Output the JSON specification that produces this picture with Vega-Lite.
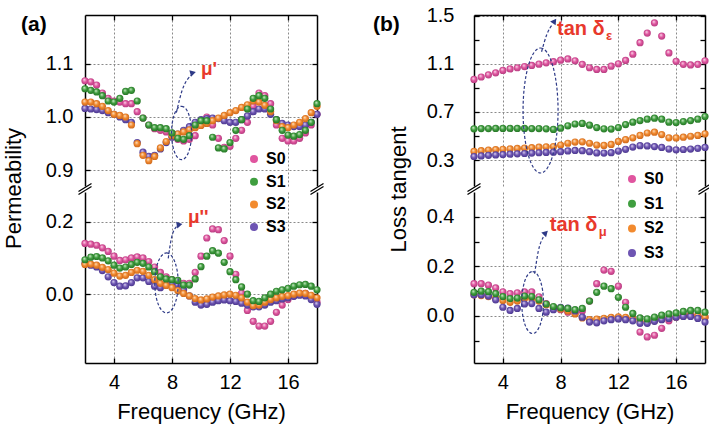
{
"$schema":"https://vega.github.io/schema/vega-lite/v6.json",
"background":"white",
"padding":{"left":2,"top":5,"right":5,"bottom":5},
"config":{
 "font":"Liberation Sans",
 "view":{"stroke":null},
 "axis":{"labelFont":"Liberation Sans","labelFontSize":20,"labelColor":"black","titleFont":"Liberation Sans","titleFontSize":22,"titleFontWeight":"normal","titleColor":"black","domainColor":"black","domainWidth":1.5,"tickColor":"black","tickWidth":1.3,"tickSize":-5,"gridColor":"#8a8a8a","gridDash":[2,2],"gridWidth":1,"gridOpacity":1},
 "legend":{"labelFont":"Liberation Sans","labelFontSize":16,"labelFontWeight":"bold","labelColor":"black","symbolType":"circle","symbolSize":64,"symbolStrokeWidth":0,"labelOffset":4,"padding":0}
},
"datasets":{
"mu1":[
{"f":2.0,"S0":1.068,"S1":1.053,"S2":1.028,"S3":1.016},
{"f":2.4,"S0":1.066,"S1":1.050,"S2":1.028,"S3":1.015},
{"f":2.8,"S0":1.060,"S1":1.047,"S2":1.025,"S3":1.014},
{"f":3.2,"S0":1.045,"S1":1.040,"S2":1.020,"S3":1.012},
{"f":3.6,"S0":1.035,"S1":1.030,"S2":1.012,"S3":1.008},
{"f":4.0,"S0":1.030,"S1":1.028,"S2":1.005,"S3":1.005},
{"f":4.4,"S0":1.028,"S1":1.035,"S2":1.003,"S3":1.000},
{"f":4.8,"S0":1.025,"S1":1.048,"S2":1.000,"S3":0.995},
{"f":5.2,"S0":1.025,"S1":1.050,"S2":0.985,"S3":0.990},
{"f":5.6,"S0":1.010,"S1":1.030,"S2":0.950,"S3":0.952},
{"f":6.0,"S0":0.998,"S1":0.998,"S2":0.928,"S3":0.934},
{"f":6.4,"S0":0.985,"S1":0.985,"S2":0.918,"S3":0.926},
{"f":6.8,"S0":0.978,"S1":0.980,"S2":0.926,"S3":0.928},
{"f":7.2,"S0":0.975,"S1":0.980,"S2":0.942,"S3":0.940},
{"f":7.6,"S0":0.972,"S1":0.978,"S2":0.954,"S3":0.952},
{"f":8.0,"S0":0.965,"S1":0.970,"S2":0.965,"S3":0.962},
{"f":8.4,"S0":0.958,"S1":0.960,"S2":0.968,"S3":0.968},
{"f":8.8,"S0":0.955,"S1":0.958,"S2":0.972,"S3":0.975},
{"f":9.2,"S0":0.958,"S1":0.965,"S2":0.976,"S3":0.982},
{"f":9.6,"S0":0.965,"S1":0.985,"S2":0.980,"S3":0.990},
{"f":10.0,"S0":0.985,"S1":0.993,"S2":0.984,"S3":0.995},
{"f":10.4,"S0":1.000,"S1":0.993,"S2":0.988,"S3":0.997},
{"f":10.8,"S0":0.985,"S1":0.962,"S2":0.993,"S3":0.998},
{"f":11.2,"S0":0.960,"S1":0.942,"S2":0.998,"S3":0.997},
{"f":11.6,"S0":0.943,"S1":0.940,"S2":1.003,"S3":0.993},
{"f":12.0,"S0":0.945,"S1":0.952,"S2":1.008,"S3":0.990},
{"f":12.4,"S0":0.960,"S1":0.975,"S2":1.012,"S3":0.990},
{"f":12.8,"S0":0.975,"S1":0.995,"S2":1.018,"S3":0.995},
{"f":13.2,"S0":0.990,"S1":1.015,"S2":1.023,"S3":1.002},
{"f":13.6,"S0":1.020,"S1":1.035,"S2":1.030,"S3":1.010},
{"f":14.0,"S0":1.045,"S1":1.040,"S2":1.028,"S3":1.015},
{"f":14.4,"S0":1.040,"S1":1.035,"S2":1.022,"S3":1.015},
{"f":14.8,"S0":1.025,"S1":1.015,"S2":1.010,"S3":1.005},
{"f":15.2,"S0":0.985,"S1":0.995,"S2":0.993,"S3":0.995},
{"f":15.6,"S0":0.960,"S1":0.975,"S2":0.982,"S3":0.988},
{"f":16.0,"S0":0.955,"S1":0.966,"S2":0.980,"S3":0.985},
{"f":16.4,"S0":0.955,"S1":0.964,"S2":0.985,"S3":0.982},
{"f":16.8,"S0":0.960,"S1":0.967,"S2":0.990,"S3":0.982},
{"f":17.2,"S0":0.970,"S1":0.975,"S2":0.997,"S3":0.985},
{"f":17.6,"S0":0.985,"S1":0.990,"S2":1.008,"S3":0.990},
{"f":18.0,"S0":1.005,"S1":1.025,"S2":1.020,"S3":1.005}],
"mu2":[
{"f":2.0,"S0":0.140,"S1":0.095,"S2":0.082,"S3":0.085},
{"f":2.4,"S0":0.138,"S1":0.102,"S2":0.083,"S3":0.080},
{"f":2.8,"S0":0.135,"S1":0.104,"S2":0.080,"S3":0.075},
{"f":3.2,"S0":0.128,"S1":0.100,"S2":0.074,"S3":0.065},
{"f":3.6,"S0":0.118,"S1":0.092,"S2":0.068,"S3":0.048},
{"f":4.0,"S0":0.105,"S1":0.080,"S2":0.058,"S3":0.032},
{"f":4.4,"S0":0.093,"S1":0.072,"S2":0.050,"S3":0.022},
{"f":4.8,"S0":0.095,"S1":0.075,"S2":0.052,"S3":0.023},
{"f":5.2,"S0":0.100,"S1":0.082,"S2":0.060,"S3":0.032},
{"f":5.6,"S0":0.103,"S1":0.088,"S2":0.066,"S3":0.045},
{"f":6.0,"S0":0.100,"S1":0.085,"S2":0.063,"S3":0.045},
{"f":6.4,"S0":0.090,"S1":0.075,"S2":0.052,"S3":0.035},
{"f":6.8,"S0":0.075,"S1":0.062,"S2":0.040,"S3":0.022},
{"f":7.2,"S0":0.060,"S1":0.048,"S2":0.030,"S3":0.018},
{"f":7.6,"S0":0.048,"S1":0.042,"S2":0.024,"S3":0.025},
{"f":8.0,"S0":0.040,"S1":0.040,"S2":0.018,"S3":0.030},
{"f":8.4,"S0":0.035,"S1":0.038,"S2":0.010,"S3":0.025},
{"f":8.8,"S0":0.030,"S1":0.025,"S2":0.002,"S3":0.012},
{"f":9.2,"S0":0.030,"S1":0.025,"S2":-0.005,"S3":-0.005},
{"f":9.6,"S0":0.060,"S1":0.042,"S2":-0.012,"S3":-0.022},
{"f":10.0,"S0":0.105,"S1":0.076,"S2":-0.016,"S3":-0.030},
{"f":10.4,"S0":0.155,"S1":0.105,"S2":-0.013,"S3":-0.028},
{"f":10.8,"S0":0.180,"S1":0.120,"S2":-0.008,"S3":-0.022},
{"f":11.2,"S0":0.178,"S1":0.113,"S2":-0.005,"S3":-0.018},
{"f":11.6,"S0":0.148,"S1":0.088,"S2":-0.002,"S3":-0.016},
{"f":12.0,"S0":0.105,"S1":0.062,"S2":0.000,"S3":-0.018},
{"f":12.4,"S0":0.055,"S1":0.040,"S2":-0.003,"S3":-0.020},
{"f":12.8,"S0":0.003,"S1":0.020,"S2":-0.010,"S3":-0.025},
{"f":13.2,"S0":-0.045,"S1":0.000,"S2":-0.022,"S3":-0.030},
{"f":13.6,"S0":-0.075,"S1":-0.018,"S2":-0.032,"S3":-0.035},
{"f":14.0,"S0":-0.088,"S1":-0.020,"S2":-0.030,"S3":-0.035},
{"f":14.4,"S0":-0.088,"S1":-0.010,"S2":-0.022,"S3":-0.030},
{"f":14.8,"S0":-0.075,"S1":0.000,"S2":-0.015,"S3":-0.022},
{"f":15.2,"S0":-0.050,"S1":0.008,"S2":-0.010,"S3":-0.018},
{"f":15.6,"S0":-0.030,"S1":0.012,"S2":-0.006,"S3":-0.013},
{"f":16.0,"S0":-0.015,"S1":0.016,"S2":-0.004,"S3":-0.010},
{"f":16.4,"S0":-0.005,"S1":0.022,"S2":0.000,"S3":-0.006},
{"f":16.8,"S0":0.000,"S1":0.026,"S2":0.003,"S3":-0.003},
{"f":17.2,"S0":0.002,"S1":0.027,"S2":0.002,"S3":-0.005},
{"f":17.6,"S0":-0.008,"S1":0.022,"S2":-0.003,"S3":-0.015},
{"f":18.0,"S0":-0.022,"S1":0.012,"S2":-0.010,"S3":-0.028}],
"te":[
{"f":2.0,"S0":0.970,"S1":0.560,"S2":0.372,"S3":0.330},
{"f":2.5,"S0":0.990,"S1":0.562,"S2":0.378,"S3":0.335},
{"f":3.0,"S0":1.008,"S1":0.562,"S2":0.383,"S3":0.340},
{"f":3.5,"S0":1.025,"S1":0.563,"S2":0.387,"S3":0.343},
{"f":4.0,"S0":1.045,"S1":0.563,"S2":0.390,"S3":0.346},
{"f":4.5,"S0":1.057,"S1":0.563,"S2":0.393,"S3":0.349},
{"f":5.0,"S0":1.067,"S1":0.563,"S2":0.397,"S3":0.352},
{"f":5.5,"S0":1.077,"S1":0.563,"S2":0.400,"S3":0.355},
{"f":6.0,"S0":1.086,"S1":0.562,"S2":0.403,"S3":0.358},
{"f":6.5,"S0":1.097,"S1":0.562,"S2":0.407,"S3":0.361},
{"f":7.0,"S0":1.108,"S1":0.560,"S2":0.410,"S3":0.364},
{"f":7.5,"S0":1.117,"S1":0.555,"S2":0.413,"S3":0.366},
{"f":8.0,"S0":1.130,"S1":0.565,"S2":0.425,"S3":0.370},
{"f":8.5,"S0":1.140,"S1":0.585,"S2":0.440,"S3":0.376},
{"f":9.0,"S0":1.125,"S1":0.600,"S2":0.450,"S3":0.380},
{"f":9.5,"S0":1.095,"S1":0.605,"S2":0.452,"S3":0.378},
{"f":10.0,"S0":1.067,"S1":0.590,"S2":0.440,"S3":0.370},
{"f":10.5,"S0":1.053,"S1":0.570,"S2":0.425,"S3":0.360},
{"f":11.0,"S0":1.053,"S1":0.560,"S2":0.422,"S3":0.358},
{"f":11.5,"S0":1.080,"S1":0.558,"S2":0.430,"S3":0.362},
{"f":12.0,"S0":1.100,"S1":0.570,"S2":0.455,"S3":0.375},
{"f":12.5,"S0":1.128,"S1":0.595,"S2":0.470,"S3":0.390},
{"f":13.0,"S0":1.180,"S1":0.615,"S2":0.485,"S3":0.408},
{"f":13.5,"S0":1.275,"S1":0.628,"S2":0.505,"S3":0.420},
{"f":14.0,"S0":1.355,"S1":0.640,"S2":0.525,"S3":0.418},
{"f":14.5,"S0":1.440,"S1":0.648,"S2":0.532,"S3":0.412},
{"f":15.0,"S0":1.330,"S1":0.640,"S2":0.512,"S3":0.405},
{"f":15.5,"S0":1.190,"S1":0.615,"S2":0.485,"S3":0.392},
{"f":16.0,"S0":1.120,"S1":0.612,"S2":0.484,"S3":0.385},
{"f":16.5,"S0":1.095,"S1":0.620,"S2":0.490,"S3":0.388},
{"f":17.0,"S0":1.090,"S1":0.628,"S2":0.498,"S3":0.392},
{"f":17.5,"S0":1.095,"S1":0.640,"S2":0.505,"S3":0.398},
{"f":18.0,"S0":1.125,"S1":0.662,"S2":0.518,"S3":0.405}],
"tm":[
{"f":2.0,"S0":0.130,"S1":0.095,"S2":0.085,"S3":0.085},
{"f":2.5,"S0":0.130,"S1":0.100,"S2":0.082,"S3":0.085},
{"f":3.0,"S0":0.124,"S1":0.098,"S2":0.078,"S3":0.080},
{"f":3.5,"S0":0.113,"S1":0.090,"S2":0.072,"S3":0.065},
{"f":4.0,"S0":0.097,"S1":0.078,"S2":0.062,"S3":0.035},
{"f":4.5,"S0":0.090,"S1":0.070,"S2":0.055,"S3":0.022},
{"f":5.0,"S0":0.093,"S1":0.072,"S2":0.060,"S3":0.030},
{"f":5.5,"S0":0.097,"S1":0.080,"S2":0.070,"S3":0.048},
{"f":6.0,"S0":0.097,"S1":0.078,"S2":0.070,"S3":0.050},
{"f":6.5,"S0":0.077,"S1":0.065,"S2":0.060,"S3":0.030},
{"f":7.0,"S0":0.050,"S1":0.048,"S2":0.045,"S3":0.015},
{"f":7.5,"S0":0.035,"S1":0.038,"S2":0.035,"S3":0.025},
{"f":8.0,"S0":0.025,"S1":0.033,"S2":0.028,"S3":0.035},
{"f":8.5,"S0":0.015,"S1":0.030,"S2":0.020,"S3":0.032},
{"f":9.0,"S0":0.010,"S1":0.025,"S2":0.008,"S3":0.020},
{"f":9.5,"S0":0.020,"S1":0.030,"S2":-0.008,"S3":-0.005},
{"f":10.0,"S0":0.060,"S1":0.060,"S2":-0.015,"S3":-0.025},
{"f":10.5,"S0":0.130,"S1":0.095,"S2":-0.013,"S3":-0.028},
{"f":11.0,"S0":0.185,"S1":0.120,"S2":-0.010,"S3":-0.020},
{"f":11.5,"S0":0.180,"S1":0.110,"S2":-0.006,"S3":-0.015},
{"f":12.0,"S0":0.120,"S1":0.075,"S2":-0.004,"S3":-0.012},
{"f":12.5,"S0":0.055,"S1":0.035,"S2":-0.006,"S3":-0.015},
{"f":13.0,"S0":-0.010,"S1":0.010,"S2":-0.012,"S3":-0.020},
{"f":13.5,"S0":-0.065,"S1":-0.008,"S2":-0.022,"S3":-0.030},
{"f":14.0,"S0":-0.085,"S1":-0.012,"S2":-0.025,"S3":-0.030},
{"f":14.5,"S0":-0.078,"S1":-0.005,"S2":-0.020,"S3":-0.022},
{"f":15.0,"S0":-0.050,"S1":0.003,"S2":-0.013,"S3":-0.015},
{"f":15.5,"S0":-0.020,"S1":0.008,"S2":-0.008,"S3":-0.010},
{"f":16.0,"S0":-0.005,"S1":0.012,"S2":-0.004,"S3":-0.005},
{"f":16.5,"S0":0.002,"S1":0.018,"S2":0.000,"S3":-0.002},
{"f":17.0,"S0":0.005,"S1":0.022,"S2":0.002,"S3":-0.002},
{"f":17.5,"S0":0.002,"S1":0.022,"S2":0.000,"S3":-0.010},
{"f":18.0,"S0":-0.005,"S1":0.015,"S2":-0.005,"S3":-0.025}]
},
"hconcat":[
{"vconcat":[
 {"width":232,"height":171,"data":{"name":"mu1"},
  "resolve":{"axis":{"x":"independent","y":"independent"}},
  "layer":[
   {"mark":{"type":"point","filled":true,"opacity":1,"size":52,"fill":{"gradient":"radial","x1":0.38,"y1":0.32,"r1":0,"x2":0.5,"y2":0.5,"r2":0.55,"stops":[{"offset":0,"color":"#fbe3f0"},{"offset":0.5,"color":"#e0559f"},{"offset":1,"color":"#b03a7c"}]}},
    "encoding":{"x":{"field":"f","type":"quantitative","scale":{"domain":[2,18],"nice":false},"axis":{"orient":"top","values":[4,8,12,16],"labels":false,"grid":true,"title":null}},
     "y":{"field":"S0","type":"quantitative","scale":{"domain":[0.8705,1.1914],"nice":false,"zero":false},"axis":{"orient":"left","values":[0.9,1.0,1.1],"format":".1f","grid":true,"title":"Permeability","titleY":173,"labelPadding":17,"titlePadding":20}}}},
   {"mark":{"type":"point","filled":true,"opacity":1,"size":52,"fill":{"gradient":"radial","x1":0.38,"y1":0.32,"r1":0,"x2":0.5,"y2":0.5,"r2":0.55,"stops":[{"offset":0,"color":"#e4ddf5"},{"offset":0.5,"color":"#6e55b3"},{"offset":1,"color":"#47358a"}]}},
    "encoding":{"x":{"field":"f","type":"quantitative","scale":{"domain":[2,18],"nice":false},"axis":null},
     "y":{"field":"S3","type":"quantitative","scale":{"domain":[0.8705,1.1914],"nice":false,"zero":false},"axis":{"orient":"right","values":[0.9,1.0,1.1],"labels":false,"grid":false,"title":null}}}},
   {"mark":{"type":"point","filled":true,"opacity":1,"size":52,"fill":{"gradient":"radial","x1":0.38,"y1":0.32,"r1":0,"x2":0.5,"y2":0.5,"r2":0.55,"stops":[{"offset":0,"color":"#fde7cf"},{"offset":0.5,"color":"#f28a2e"},{"offset":1,"color":"#c8641a"}]}},
    "encoding":{"x":{"field":"f","type":"quantitative","scale":{"domain":[2,18],"nice":false},"axis":null},
     "y":{"field":"S2","type":"quantitative","scale":{"domain":[0.8705,1.1914],"nice":false,"zero":false},"axis":null}}},
   {"mark":{"type":"point","filled":true,"opacity":1,"size":52,"fill":{"gradient":"radial","x1":0.38,"y1":0.32,"r1":0,"x2":0.5,"y2":0.5,"r2":0.55,"stops":[{"offset":0,"color":"#dcf2d6"},{"offset":0.5,"color":"#3f9e3f"},{"offset":1,"color":"#237023"}]}},
    "encoding":{"x":{"field":"f","type":"quantitative","scale":{"domain":[2,18],"nice":false},"axis":null},
     "y":{"field":"S1","type":"quantitative","scale":{"domain":[0.8705,1.1914],"nice":false,"zero":false},"axis":null}}},
   {"data":{"values":[{"f":8.66,"v":0.97}]},
    "mark":{"type":"point","shape":"M0,-1A0.375,1,0,1,1,0,1A0.375,1,0,1,1,0,-1Z","filled":false,"opacity":1,"size":2851,"stroke":"#2e3a87","strokeWidth":1.2,"strokeDash":[3,2]},
    "encoding":{"x":{"field":"f","type":"quantitative","scale":{"domain":[2,18],"nice":false},"axis":null},"y":{"field":"v","type":"quantitative","scale":{"domain":[0.8705,1.1914],"nice":false,"zero":false},"axis":null}}},
   {"data":{"values":[{"f":8.3,"v":1.008},{"f":8.7,"v":1.05},{"f":9.3,"v":1.078}]},
    "mark":{"type":"line","interpolate":"monotone","strokeDash":[3,2],"color":"#2e3a87","strokeWidth":1.2},
    "encoding":{"x":{"field":"f","type":"quantitative","scale":{"domain":[2,18],"nice":false},"axis":null},"y":{"field":"v","type":"quantitative","scale":{"domain":[0.8705,1.1914],"nice":false,"zero":false},"axis":null}}},
   {"data":{"values":[{"f":9.45,"v":1.083}]},
    "mark":{"type":"point","shape":"triangle-right","filled":true,"opacity":1,"size":45,"color":"#2e3a87","angle":-15},
    "encoding":{"x":{"field":"f","type":"quantitative","scale":{"domain":[2,18],"nice":false},"axis":null},"y":{"field":"v","type":"quantitative","scale":{"domain":[0.8705,1.1914],"nice":false,"zero":false},"axis":null}}},
   {"data":{"values":[{"f":10.0,"v":1.091,"t":"μ'"}]},
    "mark":{"type":"text","align":"left","baseline":"middle","fontSize":19,"fontWeight":"bold","color":"#e8392c"},
    "encoding":{"x":{"field":"f","type":"quantitative","scale":{"domain":[2,18],"nice":false},"axis":null},"y":{"field":"v","type":"quantitative","scale":{"domain":[0.8705,1.1914],"nice":false,"zero":false},"axis":null},"text":{"field":"t"}}},
   {"data":{"values":[{"f":2},{"f":18}]},
    "mark":{"type":"point","shape":"M-0.93,0.35L0.93,-0.79M-0.93,0.79L0.93,-0.35","filled":false,"opacity":1,"size":196,"stroke":"black","strokeWidth":1.3,"yOffset":3},
    "encoding":{"x":{"field":"f","type":"quantitative","scale":{"domain":[2,18],"nice":false},"axis":null},"y":{"datum":0.8705,"type":"quantitative","scale":{"domain":[0.8705,1.1914],"nice":false,"zero":false},"axis":null}}},
   {"data":{"values":[{"f":2,"v":1.1914,"t":"(a)"}]},
    "mark":{"type":"text","align":"left","baseline":"top","dx":-64,"dy":-1,"fontSize":21,"fontWeight":"bold","color":"black"},
    "encoding":{"x":{"field":"f","type":"quantitative","scale":{"domain":[2,18],"nice":false},"axis":null},"y":{"field":"v","type":"quantitative","scale":{"domain":[0.8705,1.1914],"nice":false,"zero":false},"axis":null},"text":{"field":"t"}}}
  ]},
 {"width":232,"height":171,"data":{"name":"mu2"},
  "resolve":{"axis":{"x":"independent","y":"independent"}},
  "layer":[
   {"mark":{"type":"point","filled":true,"opacity":1,"size":52,"fill":{"gradient":"radial","x1":0.38,"y1":0.32,"r1":0,"x2":0.5,"y2":0.5,"r2":0.55,"stops":[{"offset":0,"color":"#fbe3f0"},{"offset":0.5,"color":"#e0559f"},{"offset":1,"color":"#b03a7c"}]}},
    "encoding":{"x":{"field":"f","type":"quantitative","scale":{"domain":[2,18],"nice":false},"axis":{"orient":"bottom","values":[4,8,12,16],"grid":true,"title":"Frequency (GHz)","labelPadding":14,"titlePadding":9}},
     "y":{"field":"S0","type":"quantitative","scale":{"domain":[-0.19,0.282],"nice":false,"zero":false},"axis":{"orient":"left","values":[0,0.2],"format":".1f","grid":true,"title":null,"labelPadding":17}}}},
   {"mark":{"type":"point","filled":true,"opacity":1,"size":52,"fill":{"gradient":"radial","x1":0.38,"y1":0.32,"r1":0,"x2":0.5,"y2":0.5,"r2":0.55,"stops":[{"offset":0,"color":"#e4ddf5"},{"offset":0.5,"color":"#6e55b3"},{"offset":1,"color":"#47358a"}]}},
    "encoding":{"x":{"field":"f","type":"quantitative","scale":{"domain":[2,18],"nice":false},"axis":null},
     "y":{"field":"S3","type":"quantitative","scale":{"domain":[-0.19,0.282],"nice":false,"zero":false},"axis":{"orient":"right","values":[0,0.2],"labels":false,"grid":false,"title":null}}}},
   {"mark":{"type":"point","filled":true,"opacity":1,"size":52,"fill":{"gradient":"radial","x1":0.38,"y1":0.32,"r1":0,"x2":0.5,"y2":0.5,"r2":0.55,"stops":[{"offset":0,"color":"#fde7cf"},{"offset":0.5,"color":"#f28a2e"},{"offset":1,"color":"#c8641a"}]}},
    "encoding":{"x":{"field":"f","type":"quantitative","scale":{"domain":[2,18],"nice":false},"axis":null},
     "y":{"field":"S2","type":"quantitative","scale":{"domain":[-0.19,0.282],"nice":false,"zero":false},"axis":null}}},
   {"mark":{"type":"point","filled":true,"opacity":1,"size":52,"fill":{"gradient":"radial","x1":0.38,"y1":0.32,"r1":0,"x2":0.5,"y2":0.5,"r2":0.55,"stops":[{"offset":0,"color":"#dcf2d6"},{"offset":0.5,"color":"#3f9e3f"},{"offset":1,"color":"#237023"}]}},
    "encoding":{"x":{"field":"f","type":"quantitative","scale":{"domain":[2,18],"nice":false},"axis":null},
     "y":{"field":"S1","type":"quantitative","scale":{"domain":[-0.19,0.282],"nice":false,"zero":false},"axis":null}}},
   {"data":{"values":[{"f":7.62,"v":0.031}]},
    "mark":{"type":"point","shape":"M0,-1A0.39,1,0,1,1,0,1A0.39,1,0,1,1,0,-1Z","filled":false,"opacity":1,"size":3600,"stroke":"#2e3a87","strokeWidth":1.2,"strokeDash":[3,2]},
    "encoding":{"x":{"field":"f","type":"quantitative","scale":{"domain":[2,18],"nice":false},"axis":null},"y":{"field":"v","type":"quantitative","scale":{"domain":[-0.19,0.282],"nice":false,"zero":false},"axis":null}}},
   {"data":{"values":[{"f":7.74,"v":0.099},{"f":7.97,"v":0.156},{"f":8.35,"v":0.188}]},
    "mark":{"type":"line","interpolate":"monotone","strokeDash":[3,2],"color":"#2e3a87","strokeWidth":1.2},
    "encoding":{"x":{"field":"f","type":"quantitative","scale":{"domain":[2,18],"nice":false},"axis":null},"y":{"field":"v","type":"quantitative","scale":{"domain":[-0.19,0.282],"nice":false,"zero":false},"axis":null}}},
   {"data":{"values":[{"f":8.52,"v":0.192}]},
    "mark":{"type":"point","shape":"triangle-right","filled":true,"opacity":1,"size":45,"color":"#2e3a87","angle":-10},
    "encoding":{"x":{"field":"f","type":"quantitative","scale":{"domain":[2,18],"nice":false},"axis":null},"y":{"field":"v","type":"quantitative","scale":{"domain":[-0.19,0.282],"nice":false,"zero":false},"axis":null}}},
   {"data":{"values":[{"f":9.1,"v":0.212,"t":"μ''"}]},
    "mark":{"type":"text","align":"left","baseline":"middle","fontSize":19,"fontWeight":"bold","color":"#e8392c"},
    "encoding":{"x":{"field":"f","type":"quantitative","scale":{"domain":[2,18],"nice":false},"axis":null},"y":{"field":"v","type":"quantitative","scale":{"domain":[-0.19,0.282],"nice":false,"zero":false},"axis":null},"text":{"field":"t"}}},
   {"data":{"values":[{"s":"S0"},{"s":"S1"},{"s":"S2"},{"s":"S3"}]},
    "mark":{"type":"point","filled":true,"size":0,"opacity":1},
    "encoding":{"color":{"field":"s","type":"nominal","scale":{"domain":["S0","S1","S2","S3"],"range":["#e0559f","#3f9e3f","#f28a2e","#6e55b3"]},"legend":{"orient":"none","legendX":161,"legendY":-41,"title":null,"rowPadding":6.7}}}}
  ]}
 ],"spacing":6,"bounds":"flush","resolve":{"scale":{"color":"independent"},"legend":{"color":"independent"}}},
{"vconcat":[
 {"width":231,"height":171,"data":{"name":"te"},
  "resolve":{"axis":{"x":"independent","y":"independent"}},
  "layer":[
   {"mark":{"type":"point","filled":true,"opacity":1,"size":52,"fill":{"gradient":"radial","x1":0.38,"y1":0.32,"r1":0,"x2":0.5,"y2":0.5,"r2":0.55,"stops":[{"offset":0,"color":"#fbe3f0"},{"offset":0.5,"color":"#e0559f"},{"offset":1,"color":"#b03a7c"}]}},
    "encoding":{"x":{"field":"f","type":"quantitative","scale":{"domain":[2,18],"nice":false},"axis":{"orient":"top","values":[4,8,12,16],"labels":false,"grid":true,"title":null}},
     "y":{"field":"S0","type":"quantitative","scale":{"domain":[0.085,1.505],"nice":false,"zero":false},"axis":{"orient":"left","values":[0.3,0.5,0.7,0.9,1.1,1.3,1.5],"format":".1f","labelExpr":"abs((datum.value-0.3)/0.4-round((datum.value-0.3)/0.4))<0.01 ? datum.label : ''","gridOpacity":{"condition":{"test":"abs((datum.value-0.3)/0.4-round((datum.value-0.3)/0.4))<0.01","value":1},"value":0},"grid":true,"title":"Loss tangent","titleY":174,"labelPadding":25,"titlePadding":16}}}},
   {"mark":{"type":"point","filled":true,"opacity":1,"size":52,"fill":{"gradient":"radial","x1":0.38,"y1":0.32,"r1":0,"x2":0.5,"y2":0.5,"r2":0.55,"stops":[{"offset":0,"color":"#fde7cf"},{"offset":0.5,"color":"#f28a2e"},{"offset":1,"color":"#c8641a"}]}},
    "encoding":{"x":{"field":"f","type":"quantitative","scale":{"domain":[2,18],"nice":false},"axis":null},
     "y":{"field":"S2","type":"quantitative","scale":{"domain":[0.085,1.505],"nice":false,"zero":false},"axis":{"orient":"right","values":[0.3,0.5,0.7,0.9,1.1,1.3,1.5],"labels":false,"grid":false,"title":null}}}},
   {"mark":{"type":"point","filled":true,"opacity":1,"size":52,"fill":{"gradient":"radial","x1":0.38,"y1":0.32,"r1":0,"x2":0.5,"y2":0.5,"r2":0.55,"stops":[{"offset":0,"color":"#e4ddf5"},{"offset":0.5,"color":"#6e55b3"},{"offset":1,"color":"#47358a"}]}},
    "encoding":{"x":{"field":"f","type":"quantitative","scale":{"domain":[2,18],"nice":false},"axis":null},
     "y":{"field":"S3","type":"quantitative","scale":{"domain":[0.085,1.505],"nice":false,"zero":false},"axis":null}}},
   {"mark":{"type":"point","filled":true,"opacity":1,"size":52,"fill":{"gradient":"radial","x1":0.38,"y1":0.32,"r1":0,"x2":0.5,"y2":0.5,"r2":0.55,"stops":[{"offset":0,"color":"#dcf2d6"},{"offset":0.5,"color":"#3f9e3f"},{"offset":1,"color":"#237023"}]}},
    "encoding":{"x":{"field":"f","type":"quantitative","scale":{"domain":[2,18],"nice":false},"axis":null},
     "y":{"field":"S1","type":"quantitative","scale":{"domain":[0.085,1.505],"nice":false,"zero":false},"axis":null}}},
   {"data":{"values":[{"f":6.61,"v":0.712}]},
    "mark":{"type":"point","shape":"M0,-1A0.28,1,0,1,1,0,1A0.28,1,0,1,1,0,-1Z","filled":false,"opacity":1,"size":15625,"stroke":"#2e3a87","strokeWidth":1.2,"strokeDash":[3,2]},
    "encoding":{"x":{"field":"f","type":"quantitative","scale":{"domain":[2,18],"nice":false},"axis":null},"y":{"field":"v","type":"quantitative","scale":{"domain":[0.085,1.505],"nice":false,"zero":false},"axis":null}}},
   {"data":{"values":[{"f":6.68,"v":1.2},{"f":7.05,"v":1.345},{"f":7.45,"v":1.43}]},
    "mark":{"type":"line","interpolate":"monotone","strokeDash":[3,2],"color":"#2e3a87","strokeWidth":1.2},
    "encoding":{"x":{"field":"f","type":"quantitative","scale":{"domain":[2,18],"nice":false},"axis":null},"y":{"field":"v","type":"quantitative","scale":{"domain":[0.085,1.505],"nice":false,"zero":false},"axis":null}}},
   {"data":{"values":[{"f":7.58,"v":1.455}]},
    "mark":{"type":"point","shape":"triangle-right","filled":true,"opacity":1,"size":45,"color":"#2e3a87","angle":-55},
    "encoding":{"x":{"field":"f","type":"quantitative","scale":{"domain":[2,18],"nice":false},"axis":null},"y":{"field":"v","type":"quantitative","scale":{"domain":[0.085,1.505],"nice":false,"zero":false},"axis":null}}},
   {"data":{"values":[{"f":7.75,"v":1.385,"t":"tan δ"}]},
    "mark":{"type":"text","align":"left","baseline":"middle","fontSize":20,"fontWeight":"bold","color":"#e8392c"},
    "encoding":{"x":{"field":"f","type":"quantitative","scale":{"domain":[2,18],"nice":false},"axis":null},"y":{"field":"v","type":"quantitative","scale":{"domain":[0.085,1.505],"nice":false,"zero":false},"axis":null},"text":{"field":"t"}}},
   {"data":{"values":[{"f":7.75,"v":1.385,"t":"ε"}]},
    "mark":{"type":"text","align":"left","baseline":"middle","dx":49,"dy":7,"fontSize":13,"fontWeight":"bold","color":"#e8392c"},
    "encoding":{"x":{"field":"f","type":"quantitative","scale":{"domain":[2,18],"nice":false},"axis":null},"y":{"field":"v","type":"quantitative","scale":{"domain":[0.085,1.505],"nice":false,"zero":false},"axis":null},"text":{"field":"t"}}},
   {"data":{"values":[{"f":2},{"f":18}]},
    "mark":{"type":"point","shape":"M-0.93,0.35L0.93,-0.79M-0.93,0.79L0.93,-0.35","filled":false,"opacity":1,"size":196,"stroke":"black","strokeWidth":1.3,"yOffset":3},
    "encoding":{"x":{"field":"f","type":"quantitative","scale":{"domain":[2,18],"nice":false},"axis":null},"y":{"datum":0.085,"type":"quantitative","scale":{"domain":[0.085,1.505],"nice":false,"zero":false},"axis":null}}},
   {"data":{"values":[{"f":2,"v":1.505,"t":"(b)"}]},
    "mark":{"type":"text","align":"left","baseline":"top","dx":-101,"dy":-1,"fontSize":21,"fontWeight":"bold","color":"black"},
    "encoding":{"x":{"field":"f","type":"quantitative","scale":{"domain":[2,18],"nice":false},"axis":null},"y":{"field":"v","type":"quantitative","scale":{"domain":[0.085,1.505],"nice":false,"zero":false},"axis":null},"text":{"field":"t"}}}
  ]},
 {"width":231,"height":171,"data":{"name":"tm"},
  "resolve":{"axis":{"x":"independent","y":"independent"}},
  "layer":[
   {"mark":{"type":"point","filled":true,"opacity":1,"size":52,"fill":{"gradient":"radial","x1":0.38,"y1":0.32,"r1":0,"x2":0.5,"y2":0.5,"r2":0.55,"stops":[{"offset":0,"color":"#fbe3f0"},{"offset":0.5,"color":"#e0559f"},{"offset":1,"color":"#b03a7c"}]}},
    "encoding":{"x":{"field":"f","type":"quantitative","scale":{"domain":[2,18],"nice":false},"axis":{"orient":"bottom","values":[4,8,12,16],"grid":true,"title":"Frequency (GHz)","labelPadding":14,"titlePadding":9}},
     "y":{"field":"S0","type":"quantitative","scale":{"domain":[-0.19,0.5],"nice":false,"zero":false},"axis":{"orient":"left","values":[-0.1,0,0.1,0.2,0.3,0.4],"format":".1f","labelExpr":"abs(datum.value/0.2-round(datum.value/0.2))<0.01 ? datum.label : ''","gridOpacity":{"condition":{"test":"abs(datum.value/0.2-round(datum.value/0.2))<0.01","value":1},"value":0},"grid":true,"title":null,"labelPadding":25}}}},
   {"mark":{"type":"point","filled":true,"opacity":1,"size":52,"fill":{"gradient":"radial","x1":0.38,"y1":0.32,"r1":0,"x2":0.5,"y2":0.5,"r2":0.55,"stops":[{"offset":0,"color":"#fde7cf"},{"offset":0.5,"color":"#f28a2e"},{"offset":1,"color":"#c8641a"}]}},
    "encoding":{"x":{"field":"f","type":"quantitative","scale":{"domain":[2,18],"nice":false},"axis":null},
     "y":{"field":"S2","type":"quantitative","scale":{"domain":[-0.19,0.5],"nice":false,"zero":false},"axis":{"orient":"right","values":[-0.1,0,0.1,0.2,0.3,0.4],"labels":false,"grid":false,"title":null}}}},
   {"mark":{"type":"point","filled":true,"opacity":1,"size":52,"fill":{"gradient":"radial","x1":0.38,"y1":0.32,"r1":0,"x2":0.5,"y2":0.5,"r2":0.55,"stops":[{"offset":0,"color":"#e4ddf5"},{"offset":0.5,"color":"#6e55b3"},{"offset":1,"color":"#47358a"}]}},
    "encoding":{"x":{"field":"f","type":"quantitative","scale":{"domain":[2,18],"nice":false},"axis":null},
     "y":{"field":"S3","type":"quantitative","scale":{"domain":[-0.19,0.5],"nice":false,"zero":false},"axis":null}}},
   {"mark":{"type":"point","filled":true,"opacity":1,"size":52,"fill":{"gradient":"radial","x1":0.38,"y1":0.32,"r1":0,"x2":0.5,"y2":0.5,"r2":0.55,"stops":[{"offset":0,"color":"#dcf2d6"},{"offset":0.5,"color":"#3f9e3f"},{"offset":1,"color":"#237023"}]}},
    "encoding":{"x":{"field":"f","type":"quantitative","scale":{"domain":[2,18],"nice":false},"axis":null},
     "y":{"field":"S1","type":"quantitative","scale":{"domain":[-0.19,0.5],"nice":false,"zero":false},"axis":null}}},
   {"data":{"values":[{"f":6.06,"v":0.054}]},
    "mark":{"type":"point","shape":"M0,-1A0.35,1,0,1,1,0,1A0.35,1,0,1,1,0,-1Z","filled":false,"opacity":1,"size":3844,"stroke":"#2e3a87","strokeWidth":1.2,"strokeDash":[3,2]},
    "encoding":{"x":{"field":"f","type":"quantitative","scale":{"domain":[2,18],"nice":false},"axis":null},"y":{"field":"v","type":"quantitative","scale":{"domain":[-0.19,0.5],"nice":false,"zero":false},"axis":null}}},
   {"data":{"values":[{"f":6.2,"v":0.17},{"f":6.45,"v":0.26},{"f":6.8,"v":0.318}]},
    "mark":{"type":"line","interpolate":"monotone","strokeDash":[3,2],"color":"#2e3a87","strokeWidth":1.2},
    "encoding":{"x":{"field":"f","type":"quantitative","scale":{"domain":[2,18],"nice":false},"axis":null},"y":{"field":"v","type":"quantitative","scale":{"domain":[-0.19,0.5],"nice":false,"zero":false},"axis":null}}},
   {"data":{"values":[{"f":6.97,"v":0.335}]},
    "mark":{"type":"point","shape":"triangle-right","filled":true,"opacity":1,"size":45,"color":"#2e3a87","angle":-45},
    "encoding":{"x":{"field":"f","type":"quantitative","scale":{"domain":[2,18],"nice":false},"axis":null},"y":{"field":"v","type":"quantitative","scale":{"domain":[-0.19,0.5],"nice":false,"zero":false},"axis":null}}},
   {"data":{"values":[{"f":7.25,"v":0.366,"t":"tan δ"}]},
    "mark":{"type":"text","align":"left","baseline":"middle","fontSize":20,"fontWeight":"bold","color":"#e8392c"},
    "encoding":{"x":{"field":"f","type":"quantitative","scale":{"domain":[2,18],"nice":false},"axis":null},"y":{"field":"v","type":"quantitative","scale":{"domain":[-0.19,0.5],"nice":false,"zero":false},"axis":null},"text":{"field":"t"}}},
   {"data":{"values":[{"f":7.25,"v":0.366,"t":"μ"}]},
    "mark":{"type":"text","align":"left","baseline":"middle","dx":49,"dy":7,"fontSize":13,"fontWeight":"bold","color":"#e8392c"},
    "encoding":{"x":{"field":"f","type":"quantitative","scale":{"domain":[2,18],"nice":false},"axis":null},"y":{"field":"v","type":"quantitative","scale":{"domain":[-0.19,0.5],"nice":false,"zero":false},"axis":null},"text":{"field":"t"}}},
   {"data":{"values":[{"s":"S0"},{"s":"S1"},{"s":"S2"},{"s":"S3"}]},
    "mark":{"type":"point","filled":true,"size":0,"opacity":1},
    "encoding":{"color":{"field":"s","type":"nominal","scale":{"domain":["S0","S1","S2","S3"],"range":["#e0559f","#3f9e3f","#f28a2e","#6e55b3"]},"legend":{"orient":"none","legendX":150,"legendY":-21,"title":null,"rowPadding":8.7}}}}
  ]}
 ],"spacing":6,"bounds":"flush","resolve":{"scale":{"color":"independent"},"legend":{"color":"independent"}}}
],
"spacing":46,
"resolve":{"scale":{"color":"independent"},"legend":{"color":"independent"}}
}
